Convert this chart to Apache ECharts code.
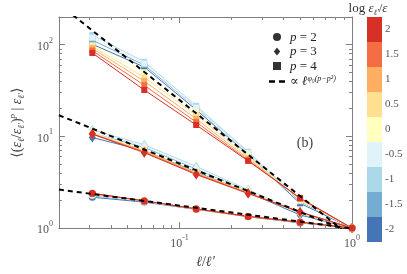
<!DOCTYPE html>
<html><head><meta charset="utf-8">
<script src="https://cdn.jsdelivr.net/npm/echarts@6/dist/echarts.min.js"></script>
<style>html,body{margin:0;padding:0;background:#fff}#c{width:407px;height:274px}</style>
</head><body><div id="c"></div>
<script>
// ---- data ----
const xValues = [1/32, 1/16, 1/8, 1/4, 1/2, 1];
const levels = ['-2','-1.5','-1','-0.5','0','0.5','1','1.5','2'];
const levelColors = ['#4575b4','#74add1','#abd9e9','#e0f3f8','#ffffbf','#fee090','#fdae61','#f46d43','#d73027'];
// rows follow levels (-2 ... 2), columns follow xValues
const p2Values = [
  [2.17, 1.92, 1.60, 1.33, 1.14, 1],
  [2.25, 1.95, 1.61, 1.34, 1.15, 1],
  [2.30, 1.97, 1.62, 1.35, 1.16, 1],
  [2.30, 1.97, 1.62, 1.35, 1.16, 1],
  [2.32, 1.97, 1.62, 1.34, 1.16, 1],
  [2.35, 1.97, 1.62, 1.34, 1.16, 1],
  [2.37, 1.98, 1.62, 1.34, 1.16, 1],
  [2.38, 1.98, 1.62, 1.34, 1.16, 1],
  [2.40, 1.98, 1.62, 1.34, 1.16, 1]
];
const p3Values = [
  [9.7, 7.0, 4.10, 2.45, 1.39, 1],
  [10.8, 7.6, 4.40, 2.55, 1.45, 1],
  [11.8, 8.1, 4.70, 2.62, 1.48, 1],
  [11.4, 7.8, 4.50, 2.58, 1.47, 1],
  [10.9, 7.2, 4.20, 2.50, 1.47, 1],
  [10.8, 7.0, 4.00, 2.45, 1.48, 1],
  [10.7, 6.9, 3.95, 2.42, 1.49, 1],
  [10.6, 6.75, 3.90, 2.40, 1.50, 1],
  [10.6, 6.64, 3.84, 2.38, 1.50, 1]
];
const p4Values = [
  [101, 57, 19.5, 6.3, 1.86, 1],
  [112, 60, 20.5, 6.6, 1.95, 1],
  [127, 65, 21.5, 6.8, 2.00, 1],
  [119, 62, 20.5, 6.6, 2.00, 1],
  [98, 50, 18.5, 6.2, 2.00, 1],
  [95, 44, 17.0, 5.9, 2.05, 1],
  [91, 40, 15.5, 5.7, 2.08, 1],
  [86, 36, 14.3, 5.5, 2.10, 1],
  [81, 32, 13.3, 5.4, 2.13, 1]
];
const fitX = [0.02, 1];
const fitP2 = [2.63, 0.99];
const fitP3 = [17.0, 0.89];
const fitP4 = [278, 0.79];
const xMajorTicks = [0.1, 1];
const xMajorExps = ['-1', '0'];
const xMinorTicks = [0.02,0.03,0.04,0.05,0.06,0.07,0.08,0.09,0.2,0.3,0.4,0.5,0.6,0.7,0.8,0.9];
const yMajorTicks = [1, 10, 100];
const yMajorExps = ['0', '1', '2'];
const yMinorTicks = [2,3,4,5,6,7,8,9,20,30,40,50,60,70,80,90,200];

// ---- styling ----
const SERIF = '"Liberation Serif","DejaVu Serif",serif';
const AX = '#808080';
const TXT = '#555';
const supRich = {
  b: {fontFamily: SERIF, fontSize: 12, color: TXT, lineHeight: 16, verticalAlign: 'bottom'},
  s: {fontFamily: SERIF, fontSize: 8, color: TXT, lineHeight: 9, verticalAlign: 'top'}
};
function expFmt(ticks, exps) {
  return function (v) {
    const i = ticks.findIndex(t => Math.abs(t - v) / t < 1e-6);
    return i < 0 ? '' : '{b|10}{s|' + exps[i] + '}';
  };
}
function mkAxis(dim, pos, ticks, len, lineShow, label) {
  const a = {
    type: 'log', gridIndex: 0, position: pos,
    min: dim === 'x' ? 0.02 : 1, max: dim === 'x' ? 1 : 200,
    axisLine: {show: lineShow, lineStyle: {color: AX, width: 1}},
    axisTick: {show: true, inside: true, length: len, customValues: ticks, lineStyle: {color: AX}},
    splitLine: {show: false}, minorTick: {show: false},
    axisLabel: {show: false}
  };
  if (label) {
    a.axisLabel = {show: true, customValues: label.ticks, formatter: expFmt(label.ticks, label.exps),
      rich: supRich, margin: label.margin};
  }
  return a;
}

const xAxes = [
  Object.assign(mkAxis('x', 'bottom', xMinorTicks, 3, true, {ticks: xMajorTicks, exps: xMajorExps, margin: 6}), {
    name: '{i|ℓ}{r|/}{i|ℓ′}', nameLocation: 'middle', nameGap: 24,
    nameTextStyle: {rich: {i: {fontFamily: SERIF, fontStyle: 'italic', fontSize: 14, color: '#444'},
                           r: {fontFamily: SERIF, fontSize: 14, color: '#444'}}}
  }),
  mkAxis('x', 'bottom', xMajorTicks, 6, false, null),
  mkAxis('x', 'top', xMinorTicks, 3, true, null),
  mkAxis('x', 'top', xMajorTicks, 6, false, null),
  {type: 'value', gridIndex: 1, min: 0, max: 1, show: false}
];
const yRich = {
  r: {fontFamily: SERIF, fontSize: 14, color: '#444', lineHeight: 18, verticalAlign: 'middle'},
  i: {fontFamily: SERIF, fontStyle: 'italic', fontSize: 14, color: '#444', lineHeight: 18, verticalAlign: 'middle'},
  sub: {fontFamily: SERIF, fontStyle: 'italic', fontSize: 9, color: '#444', lineHeight: 9, verticalAlign: 'bottom'},
  sup: {fontFamily: SERIF, fontStyle: 'italic', fontSize: 9, color: '#444', lineHeight: 9, verticalAlign: 'top'}
};
const yAxes = [
  Object.assign(mkAxis('y', 'left', yMinorTicks, 3, true, {ticks: yMajorTicks, exps: yMajorExps, margin: 6}), {
    name: '{r|⟨(}{i|ε}{sub|ℓ}{r|/}{i|ε}{sub|ℓ′}{r|)}{sup|p}{r| | }{i|ε}{sub|ℓ′}{r|⟩}',
    nameLocation: 'middle', nameGap: 27, nameRotate: 90,
    nameTextStyle: {rich: yRich}
  }),
  mkAxis('y', 'left', yMajorTicks, 6, false, null),
  mkAxis('y', 'right', yMinorTicks, 3, true, null),
  mkAxis('y', 'right', yMajorTicks, 6, false, null),
  {type: 'category', gridIndex: 1, position: 'right', data: levels,
   axisLine: {show: false}, axisTick: {show: false},
   axisLabel: {margin: 3, fontFamily: SERIF, fontSize: 11, color: TXT}}
];

const series = [];
const groups = [
  {vals: p4Values, symbol: 'rect', size: 6},
  {vals: p3Values, symbol: 'diamond', size: [7, 10]},
  {vals: p2Values, symbol: 'circle', size: 7}
];
groups.forEach((g, gi) => {
  g.vals.forEach((row, li) => {
    series.push({
      type: 'line', name: 'g' + gi + '_' + li, xAxisIndex: 0, yAxisIndex: 0,
      data: xValues.map((x, k) => [x, row[k]]),
      symbol: g.symbol, symbolSize: g.size, showSymbol: true,
      lineStyle: {color: levelColors[li], width: 1},
      itemStyle: {color: levelColors[li]},
      z: 2, silent: true
    });
  });
});
[fitP2, fitP3, fitP4].forEach((f, i) => {
  series.push({
    type: 'line', name: i === 0 ? 'fit' : 'fit' + i, xAxisIndex: 0, yAxisIndex: 0,
    data: fitX.map((x, k) => [x, f[k]]), symbol: 'none',
    lineStyle: {color: '#000', width: 2, type: [5, 4]}, itemStyle: {color: '#000'}, z: 5, silent: true
  });
});
['p2', 'p3', 'p4'].forEach(n => series.push({type: 'scatter', name: n, data: [], itemStyle: {color: '#000'}}));
series.push({
  type: 'bar', xAxisIndex: 4, yAxisIndex: 4, barWidth: '100%', silent: true,
  data: levels.map((l, i) => ({value: 1, itemStyle: {color: levelColors[i]}}))
});

const legRich = {
  r: {fontFamily: SERIF, fontSize: 13, color: '#222', lineHeight: 14, verticalAlign: 'bottom'},
  i: {fontFamily: SERIF, fontStyle: 'italic', fontSize: 13, color: '#222', lineHeight: 14, verticalAlign: 'bottom'},
  sup: {fontFamily: SERIF, fontStyle: 'italic', fontSize: 8, color: '#222', lineHeight: 8, verticalAlign: 'top'}
};
const legendText = {
  p2: '{i|p}{r| = 2}', p3: '{i|p}{r| = 3}', p4: '{i|p}{r| = 4}',
  fit: '{r|∝ }{i|ℓ}{sup|φ₀(p−p²)}'
};

const chart = echarts.init(document.getElementById('c'), null, {renderer: 'canvas'});
chart.setOption({
  animation: false,
  backgroundColor: '#fff',
  grid: [
    {left: 40, top: 17, width: 312, height: 225},
    {left: 367, top: 17, width: 15, height: 225}
  ],
  xAxis: xAxes,
  yAxis: yAxes,
  legend: {
    orient: 'vertical', left: 264, top: 26, itemWidth: 16, itemHeight: 8, itemGap: 1.5,
    selectedMode: false, symbolKeepAspect: true,
    data: [
      {name: 'p2', icon: 'circle', itemStyle: {color: '#000'}},
      {name: 'p3', icon: 'path://M4,0L8,5L4,10L0,5Z', itemStyle: {color: '#000'}},
      {name: 'p4', icon: 'path://M0,0H10V10H0Z', itemStyle: {color: '#000'}},
      {name: 'fit', icon: 'path://M0,0H6V2.4H0Z M10,0H16V2.4H10Z', itemStyle: {color: '#000'}}
    ],
    formatter: n => legendText[n],
    textStyle: {rich: legRich}
  },
  graphic: [
    {type: 'text', x: 305, y: 143, style: {text: '(b)', font: '14px ' + SERIF, fill: '#444', align: 'center', verticalAlign: 'middle'}},
    {type: 'text', x: 368, y: 9, style: {
      text: '{r|log }{i|ε}{sub|ℓ′}{r|/}{i|ε}', align: 'center', verticalAlign: 'middle',
      rich: {
        r: {fontFamily: SERIF, fontSize: 13, fill: '#333', lineHeight: 16, verticalAlign: 'middle'},
        i: {fontFamily: SERIF, fontStyle: 'italic', fontSize: 13, fill: '#333', lineHeight: 16, verticalAlign: 'middle'},
        sub: {fontFamily: SERIF, fontStyle: 'italic', fontSize: 8, fill: '#333', lineHeight: 8, verticalAlign: 'bottom'}
      }}}
  ],
  series: series
});
</script></body></html>
